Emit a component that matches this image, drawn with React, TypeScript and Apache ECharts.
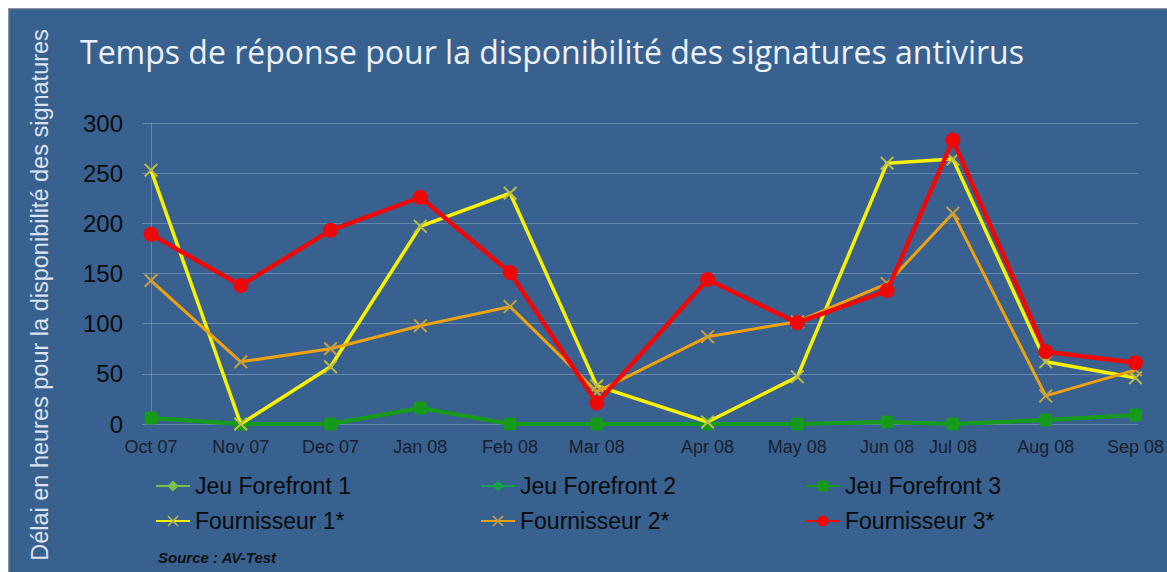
import React, { useEffect, useRef } from "react";
import * as echarts from "echarts";

const dateStrings = [
  "2007-10-10", "2007-11-09", "2007-12-09", "2008-01-08", "2008-02-07", "2008-03-07",
  "2008-04-13", "2008-05-13", "2008-06-12", "2008-07-04", "2008-08-04", "2008-09-03",
];
const xLabels = ["Oct 07", "Nov 07", "Dec 07", "Jan 08", "Feb 08", "Mar 08", "Apr 08", "May 08", "Jun 08", "Jul 08", "Aug 08", "Sep 08"];
const jeuForefront1 = [6, 0, 0, 16, 0, 0, 0, 0, 2, 0, 4, 9];
const jeuForefront2 = [6, 0, 0, 16, 0, 0, 0, 0, 2, 0, 4, 9];
const jeuForefront3 = [6, 0, 0, 16, 0, 0, 0, 0, 2, 0, 4, 9];
const fournisseur1 = [253, 0, 57, 197, 230, 38, 2, 47, 260, 264, 62, 46];
const fournisseur2 = [143, 62, 75, 98, 117, 32, 87, 102, 140, 210, 28, 54];
const fournisseur3 = [189, 138, 193, 226, 151, 21, 144, 101, 133, 283, 72, 61];
const yTicks = [0, 50, 100, 150, 200, 250, 300];

const TITLE = "Temps de réponse pour la disponibilité des signatures antivirus";
const Y_NAME = "Délai en heures pour la disponibilité des signatures";
const SOURCE = "Source : AV-Test";

const X_SYMBOL = "path://M0,1L1,0L5,4L9,0L10,1L6,5L10,9L9,10L5,6L1,10L0,9L4,5Z";

export default function App() {
  const ref = useRef<HTMLDivElement>(null);
  useEffect(() => {
    document.body.style.margin = "0";
    const chart = echarts.init(ref.current!, null, { renderer: "svg" });
    const t0 = Date.parse(dateStrings[0] + "T00:00:00Z");
    // day offsets from the first test date
    const days = dateStrings.map((s) => Math.round((Date.parse(s + "T00:00:00Z") - t0) / 86400000));
    const pts = (vals: number[]) => vals.map((v, i) => [days[i], v]);
    const font = "'Liberation Sans', Arial, sans-serif";
    const mkLegend = (left: number, names: string[]) => ({
      left,
      top: 474,
      padding: 0,
      orient: "vertical",
      itemWidth: 34,
      itemHeight: 14,
      itemGap: 11,
      data: names,
      textStyle: { color: "#0b0b0b", fontSize: 23, fontFamily: font, lineHeight: 24 },
    });
    chart.setOption({
      animation: false,
      backgroundColor: "#ffffff",
      graphic: [
        {
          type: "rect",
          shape: { x: 9, y: 9, width: 1170, height: 575 },
          style: { fill: "#38618f", stroke: "#5f6f82", lineWidth: 1.5 },
          z: -10,
        },
        {
          type: "text",
          x: 80,
          y: 51,
          style: {
            text: TITLE,
            fill: "#eef2f8",
            font: "32px 'Open Sans', sans-serif",
            textVerticalAlign: "middle",
          },
        },
        {
          type: "text",
          x: 40,
          y: 295,
          rotation: Math.PI / 2,
          style: {
            text: Y_NAME,
            fill: "#dbe3ee",
            font: "23.5px " + font,
            textAlign: "center",
            textVerticalAlign: "middle",
          },
        },
        {
          type: "text",
          x: 158,
          y: 557,
          style: {
            text: SOURCE,
            fill: "#111111",
            font: "italic bold 15px " + font,
            textVerticalAlign: "middle",
          },
        },
      ],
      legend: [
        mkLegend(155, ["Jeu Forefront 1", "Fournisseur 1*"]),
        mkLegend(480, ["Jeu Forefront 2", "Fournisseur 2*"]),
        mkLegend(805, ["Jeu Forefront 3", "Fournisseur 3*"]),
      ],
      grid: { left: 151, right: 24, top: 123, bottom: 148 },
      xAxis: {
        type: "value",
        min: days[0],
        max: days[days.length - 1] + 1,
        axisLine: { show: false },
        axisTick: { show: false },
        splitLine: { show: false },
        axisLabel: {
          customValues: days,
          formatter: (v: number) => {
            const i = days.indexOf(Math.round(v));
            return i >= 0 ? xLabels[i] : "";
          },
          color: "#1a1f2e",
          fontSize: 18,
          fontFamily: font,
          margin: 14,
        },
      },
      yAxis: {
        type: "value",
        min: yTicks[0],
        max: yTicks[yTicks.length - 1],
        interval: 50,
        axisLine: { show: true, lineStyle: { color: "rgba(190,205,225,0.35)", width: 1 } },
        axisTick: { show: true, length: 9, lineStyle: { color: "rgba(190,205,225,0.35)" } },
        splitLine: { show: true, lineStyle: { color: "rgba(190,205,225,0.35)", width: 1 } },
        axisLabel: { color: "#0d0d0d", fontSize: 24, fontFamily: font, margin: 28 },
      },
      series: [
        {
          name: "Jeu Forefront 1",
          type: "line",
          data: pts(jeuForefront1),
          symbol: "diamond",
          symbolSize: 9,
          lineStyle: { color: "#7cc04a", width: 3 },
          itemStyle: { color: "#7cc04a" },
          z: 2,
        },
        {
          name: "Jeu Forefront 2",
          type: "line",
          data: pts(jeuForefront2),
          symbol: "diamond",
          symbolSize: 12,
          lineStyle: { color: "#12a048", width: 3.5 },
          itemStyle: { color: "#12a048" },
          z: 3,
        },
        {
          name: "Jeu Forefront 3",
          type: "line",
          data: pts(jeuForefront3),
          symbol: "roundRect",
          symbolSize: 13,
          lineStyle: { color: "#179a1a", width: 4 },
          itemStyle: { color: "#179a1a" },
          z: 4,
        },
        {
          name: "Fournisseur 1*",
          type: "line",
          data: pts(fournisseur1),
          symbol: X_SYMBOL,
          symbolSize: 14,
          lineStyle: { color: "#f6f200", width: 3.5 },
          itemStyle: { color: "#b9bb4a" },
          z: 5,
        },
        {
          name: "Fournisseur 2*",
          type: "line",
          data: pts(fournisseur2),
          symbol: X_SYMBOL,
          symbolSize: 14,
          lineStyle: { color: "#eea20e", width: 3 },
          itemStyle: { color: "#c9a03a" },
          z: 6,
        },
        {
          name: "Fournisseur 3*",
          type: "line",
          data: pts(fournisseur3),
          symbol: "circle",
          symbolSize: 15,
          lineStyle: { color: "#ee0808", width: 4.5 },
          itemStyle: { color: "#ee0808" },
          z: 7,
        },
      ],
    });
    return () => chart.dispose();
  }, []);
  return <div ref={ref} style={{ width: 1167, height: 572 }} />;
}
